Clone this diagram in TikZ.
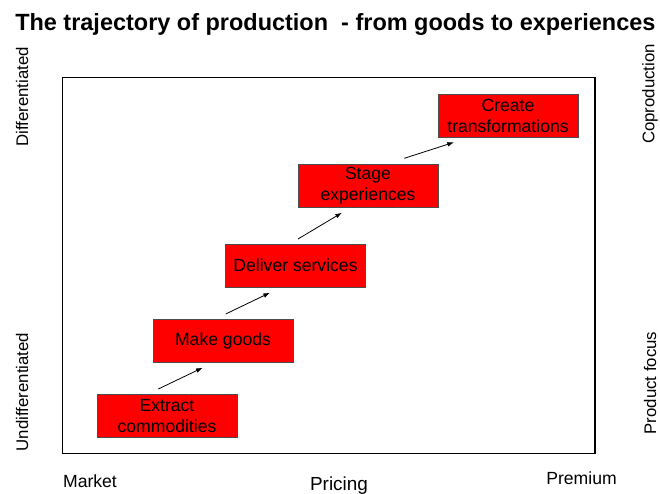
\documentclass[tikz,border=0pt]{standalone}
\usepackage{fontspec}
\setmainfont{Liberation Sans}
\usepackage{tikz}
\usetikzlibrary{arrows.meta}

\tikzset{
  stagebox/.style={draw=black!70, line width=0.6pt, fill=red, inner sep=0pt,
    minimum width=105pt, minimum height=32.25pt, align=center,
    font=\fontsize{13.2}{15.75}\selectfont},
  sidelabel/.style={rotate=90, inner sep=0pt, font=\fontsize{12.6}{15}\selectfont},
  axislabel/.style={inner sep=0pt, anchor=base, font=\fontsize{13.2}{15}\selectfont},
  step arrow/.style={-{Latex[length=5pt,width=3.5pt]}, line width=0.6pt}
}

\begin{document}
\begin{tikzpicture}[x=0.75pt,y=0.75pt,yscale=-1,xscale=1]
\useasboundingbox (0,0) rectangle (660,493);

%Shape: Frame
\draw [line width=1.1pt] (62.7,77.7) rectangle (595,453.7) ;

% Title
\node (title) [anchor=base west, inner sep=0pt, font=\bfseries\fontsize{17.6}{20}\selectfont] at (15,30) {The trajectory of production\ \ - from goods to experiences};

% Stages
\node (extract) [stagebox] at (167,415.7) {Extract\\commodities};
\node (goods) [stagebox] at (223,340.7) {Make goods};
\node (services) [stagebox] at (295.5,265.7) {Deliver services};
\node (experiences) [stagebox] at (368,185.5) {Stage\\experiences};
\node (transform) [stagebox] at (508,115.7) {Create\\transformations};

% Arrow ends
\coordinate (a1s) at (158.3,389);
\coordinate (a1e) at (202.7,367.7);
\coordinate (a2s) at (225.7,314);
\coordinate (a2e) at (270,292.7);
\coordinate (a3s) at (298,239);
\coordinate (a3e) at (342,212.7);
\coordinate (a4s) at (404.3,158.3);
\coordinate (a4e) at (454,142.3);

\draw [step arrow] (a1s) -- (a1e) ;
\draw [step arrow] (a2s) -- (a2e) ;
\draw [step arrow] (a3s) -- (a3e) ;
\draw [step arrow] (a4s) -- (a4e) ;

% Side labels
\node (diff) [sidelabel] at (22,97) {Differentiated};
\node (undiff) [sidelabel] at (22,392) {Undifferentiated};
\node (coprod) [sidelabel] at (650,94) {Coproduction};
\node (focus) [sidelabel] at (650,383) {Product focus};

% Bottom labels
\node (market) [axislabel] at (90,487) {Market};
\node (pricing) [axislabel, font=\fontsize{14.2}{16}\selectfont] at (339,490.5) {Pricing};
\node (premium) [axislabel] at (581.5,484) {Premium};
\end{tikzpicture}
\end{document}
